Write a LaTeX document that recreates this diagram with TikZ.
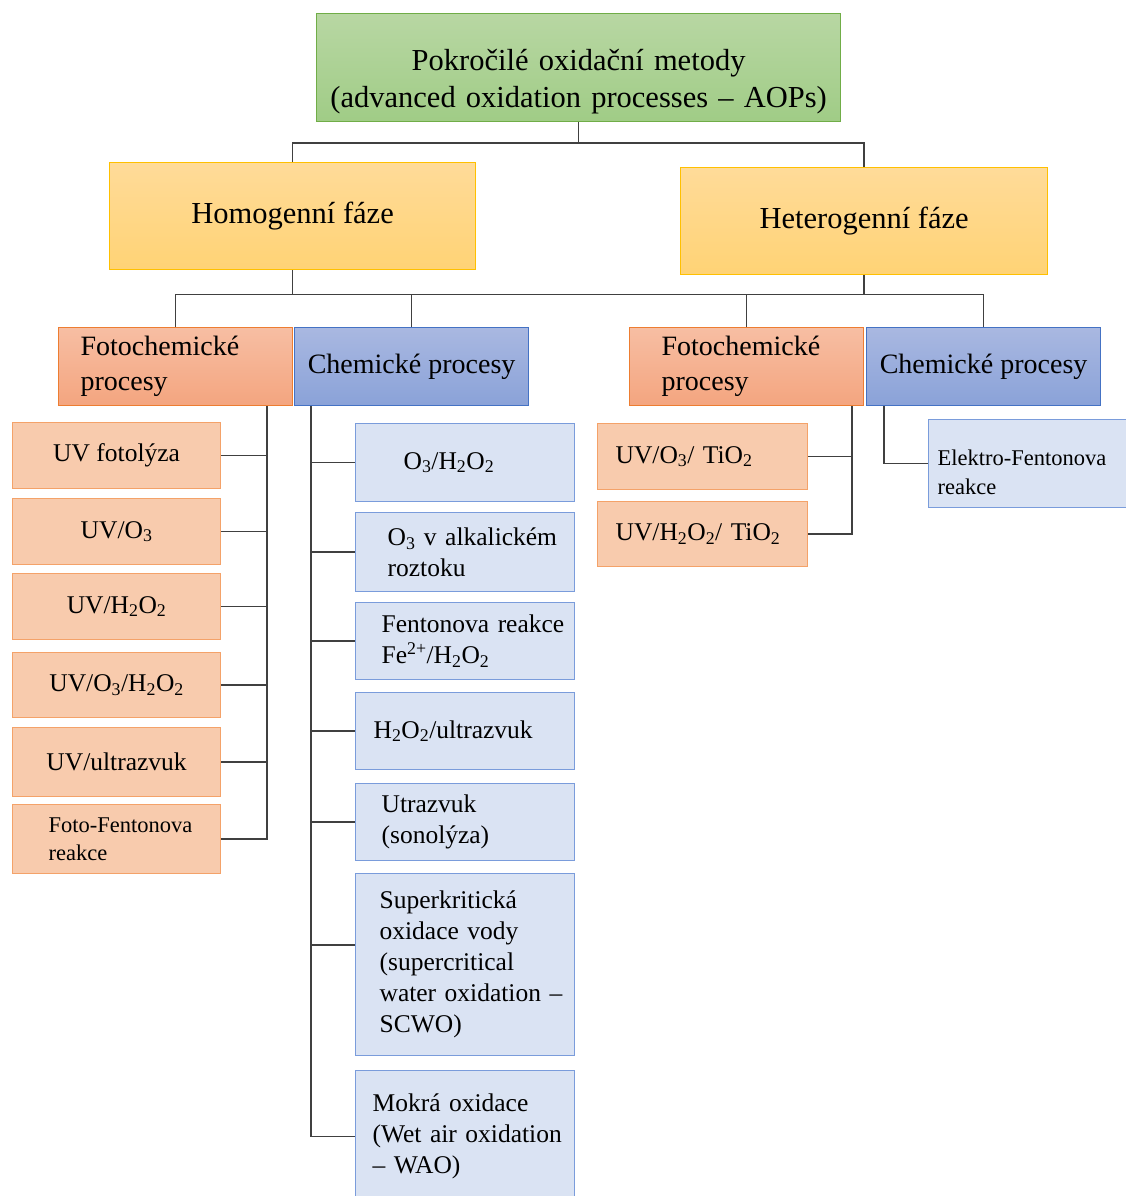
\documentclass[tikz,border=0pt]{standalone}
\usepackage{fontspec}
\setmainfont{Liberation Serif}
\definecolor{grnT}{RGB}{184,215,163}
\definecolor{grnB}{RGB}{160,204,134}
\definecolor{grnD}{RGB}{112,173,71}
\definecolor{yelT}{RGB}{255,219,153}
\definecolor{yelB}{RGB}{255,211,117}
\definecolor{yelD}{RGB}{255,192,0}
\definecolor{orgT}{RGB}{247,190,163}
\definecolor{orgB}{RGB}{244,165,127}
\definecolor{orgD}{RGB}{237,125,49}
\definecolor{bluT}{RGB}{169,184,225}
\definecolor{bluB}{RGB}{138,162,216}
\definecolor{bluD}{RGB}{68,114,196}
\definecolor{orgL}{RGB}{248,203,173}
\definecolor{orgLD}{RGB}{244,162,105}
\definecolor{bluL}{RGB}{218,227,243}
\definecolor{bluLD}{RGB}{122,156,219}
\definecolor{lineC}{RGB}{64,64,64}
\tikzset{
  box/.style={rectangle, anchor=north west, inner sep=0pt, line width=1.2pt, text=black},
  greenbox/.style={box, top color=grnT, bottom color=grnB, draw=grnD},
  yelbox/.style={box, top color=yelT, bottom color=yelB, draw=yelD},
  orghead/.style={box, top color=orgT, bottom color=orgB, draw=orgD},
  bluhead/.style={box, top color=bluT, bottom color=bluB, draw=bluD},
  orgitem/.style={box, fill=orgL, draw=orgLD},
  bluitem/.style={box, fill=bluL, draw=bluLD},
  fbig/.style={font=\fontsize{30.5}{37}\selectfont},
  fhead/.style={font=\fontsize{28}{35}\selectfont},
  fitem/.style={font=\fontsize{25.5}{31}\selectfont},
  fsmall/.style={font=\fontsize{22.5}{28.5}\selectfont},
  conn/.style={draw=lineC, line width=1.3pt},
}
\begin{document}
\begin{tikzpicture}[x=1pt, y=-1pt]
\useasboundingbox (0,0) rectangle (1126,1196);
\clip (0,0) rectangle (1126,1196);

% level 0
\node[greenbox, fbig, align=center, minimum width=524pt, text width=516pt, text height=57pt, text depth=51pt] (top) at (316,13)
  {Pokročilé oxidační metody\\(advanced oxidation processes – AOPs)};

% level 1
\node[yelbox, fbig, minimum width=366pt, minimum height=107pt] (homo) at (109,162) {Homogenní fáze};
\node[yelbox, fbig, minimum width=367pt, minimum height=107pt] (hetero) at (680,167) {Heterogenní fáze};

% level 2
\node[orghead, fhead, align=left, minimum width=234pt, minimum height=78pt, text width=190pt] (fotoL) at (58,327) {Fotochemické\\procesy};
\node[bluhead, fhead, minimum width=234pt, minimum height=78pt] (chemL) at (294,327) {Chemické procesy};
\node[orghead, fhead, align=left, minimum width=234pt, minimum height=78pt, text width=170pt] (fotoR) at (629,327) {Fotochemické\\procesy};
\node[bluhead, fhead, minimum width=234pt, minimum height=78pt] (chemR) at (866,327) {Chemické procesy};

% left items
\node[orgitem, fitem, minimum width=208pt, minimum height=66pt] (uv1) at (12,422) {UV fotolýza};
\node[orgitem, fitem, minimum width=208pt, minimum height=66pt] (uv2) at (12,498) {UV/O\textsubscript{3}};
\node[orgitem, fitem, minimum width=208pt, minimum height=66pt] (uv3) at (12,573) {UV/H\textsubscript{2}O\textsubscript{2}};
\node[orgitem, fitem, minimum width=208pt, minimum height=65pt] (uv4) at (12,652) {UV/O\textsubscript{3}/H\textsubscript{2}O\textsubscript{2}};
\node[orgitem, fitem, minimum width=208pt, minimum height=69pt] (uv5) at (12,727) {UV/ultrazvuk};
\node[orgitem, fsmall, align=left, minimum width=208pt, minimum height=69pt, text width=136pt] (uv6) at (12,804) {\mbox{Foto-Fentonova}\\reakce};

% middle items
\node[bluitem, fitem, align=left, minimum width=219pt, minimum height=78pt, text width=123pt] (m1) at (355,423) {O\textsubscript{3}/H\textsubscript{2}O\textsubscript{2}};
\node[bluitem, fitem, align=left, minimum width=219pt, minimum height=79pt, text width=155pt] (m2) at (355,512) {\mbox{O\textsubscript{3} v alkalickém}\\roztoku};
\node[bluitem, fitem, align=left, minimum width=219pt, minimum height=77pt, text width=167pt] (m3) at (355,602) {\mbox{Fentonova reakce}\\Fe\textsuperscript{2+}/H\textsubscript{2}O\textsubscript{2}};
\node[bluitem, fitem, align=left, minimum width=219pt, minimum height=77pt, text width=183pt] (m4) at (355,692) {H\textsubscript{2}O\textsubscript{2}/ultrazvuk};
\node[bluitem, fitem, align=left, minimum width=219pt, minimum height=77pt, text width=167pt] (m5) at (355,783) {Utrazvuk\\(sonolýza)};
\node[bluitem, fitem, align=left, minimum width=219pt, minimum height=182pt, text width=171pt] (m6) at (355,873) {Superkritická\\\mbox{oxidace vody}\\(supercritical\\\mbox{water oxidation –}\\SCWO)};
\node[bluitem, fitem, align=left, minimum width=219pt, minimum height=132pt, text width=185pt] (m7) at (355,1070) {\mbox{Mokrá oxidace}\\\mbox{(Wet air oxidation}\\\mbox{– WAO)}};

% right items
\node[orgitem, fitem, align=left, minimum width=210pt, minimum height=66pt, text width=174pt] (r1) at (597,423) {\mbox{UV/O\textsubscript{3}/ TiO\textsubscript{2}}};
\node[orgitem, fitem, align=left, minimum width=210pt, minimum height=65pt, text width=174pt] (r2) at (597,501) {\mbox{UV/H\textsubscript{2}O\textsubscript{2}/ TiO\textsubscript{2}}};
\node[bluitem, fsmall, align=left, minimum width=210pt, text width=192pt, text height=46pt, text depth=42pt] (el) at (928,419) {\mbox{Elektro-Fentonova}\\reakce};

% connector helper coordinates
\coordinate (bar1) at (0,143);
\coordinate (bar2) at (0,294.5);
\coordinate (vl) at (267,0);
\coordinate (vm) at (311,0);
\coordinate (vr) at (852,0);
\coordinate (ve) at (884,0);

% top level connectors
\draw[conn] (top.south) -- (top.south |- bar1);
\draw[conn] (homo.north) |- (hetero.north |- bar1) -- (hetero.north);

% second level
\draw[conn] (homo.south) -- (homo.south |- bar2);
\draw[conn] (hetero.south) -- (hetero.south |- bar2);
\draw[conn] (fotoL.north) |- (chemR.north |- bar2) -- (chemR.north);
\draw[conn] (chemL.north) -- (chemL.north |- bar2);
\draw[conn] (fotoR.north) -- (fotoR.north |- bar2);

% left branch
\draw[conn] (vl |- fotoL.south) -- (vl |- uv6.east) -- (uv6.east);
\foreach \n in {uv1,uv2,uv3,uv4,uv5} \draw[conn] (\n.east) -- (vl |- \n.east);

% middle branch
\draw[conn] (vm |- chemL.south) -- (vm |- m7.west) -- (m7.west);
\foreach \n in {m1,m2,m3,m4,m5} \draw[conn] (vm |- \n.west) -- (\n.west);
\draw[conn] (vm |- 0,945) -- (m6.west |- 0,945);

% right branch
\draw[conn] (vr |- fotoR.south) -- (vr |- r2.east) -- (r2.east);
\draw[conn] (r1.east) -- (vr |- r1.east);
\draw[conn] (ve |- chemR.south) |- (el.west);
\end{tikzpicture}
\end{document}
